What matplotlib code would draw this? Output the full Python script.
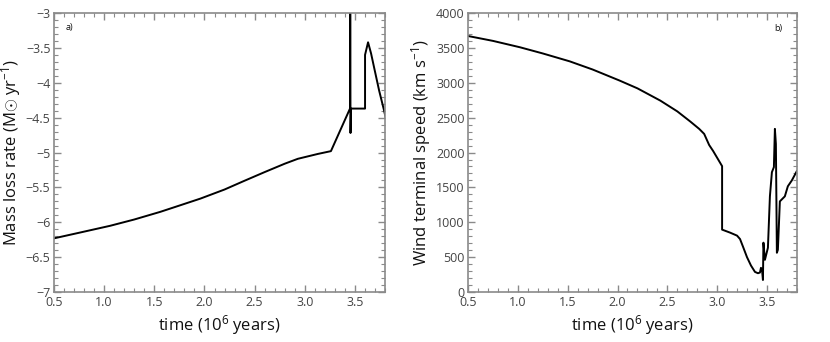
import matplotlib
matplotlib.use("Agg")
import matplotlib.pyplot as plt
from matplotlib.ticker import MultipleLocator, FixedLocator

plt.rcParams['font.family'] = ['Open Sans', 'DejaVu Sans']
plt.rcParams['mathtext.fontset'] = 'custom'
plt.rcParams['mathtext.rm'] = 'Open Sans'
plt.rcParams['mathtext.it'] = 'Open Sans'

# Panel a) mass loss rate (log Msun/yr)
t_a = [0.5, 0.75, 1.06, 1.3, 1.56, 1.75, 1.96, 2.2, 2.39, 2.6, 2.8, 2.93, 3.13, 3.26,
       3.45, 3.452, 3.455, 3.46, 3.60, 3.60, 3.63, 3.66, 3.69, 3.74, 3.79, 3.81]
mdot = [-6.23, -6.15, -6.05, -5.96, -5.85, -5.76, -5.66, -5.53, -5.41, -5.28, -5.16, -5.09,
        -5.02, -4.98, -4.37, -2.0, -4.72, -4.37, -4.37, -3.60, -3.42, -3.58, -3.78, -4.11,
        -4.40, -4.53]

# Panel b) wind terminal speed (km/s)
t_b = [0.5, 0.75, 1.02, 1.25, 1.52, 1.75, 2.02, 2.2, 2.43, 2.6, 2.73, 2.82, 2.87, 2.92,
       2.96, 3.05, 3.05, 3.13, 3.20, 3.23, 3.26, 3.30, 3.34, 3.38, 3.41, 3.43, 3.44, 3.45,
       3.46, 3.465, 3.48, 3.51, 3.53, 3.55, 3.57, 3.58, 3.59, 3.60, 3.61, 3.63, 3.68,
       3.71, 3.75, 3.80]
vinf = [3670, 3600, 3509, 3420, 3307, 3190, 3032, 2920, 2744, 2590, 2445, 2339, 2267,
        2108, 2022, 1805, 895, 852, 809, 760, 650, 500, 380, 289, 270, 280, 347, 330,
        173, 708, 462, 635, 1372, 1718, 1791, 2339, 2123, 563, 606, 1300, 1372, 1516,
        1600, 1733]

xticks = [0.5, 1.0, 1.5, 2.0, 2.5, 3.0, 3.5]
xticklabels = ['0.5', '1.0', '1.5', '2.0', '2.5', '3.0', '3.5']
yticks_a = [-7, -6.5, -6, -5.5, -5, -4.5, -4, -3.5, -3]
yticklabels_a = ['\u22127', '\u22126.5', '\u22126', '\u22125.5', '\u22125', '\u22124.5',
                 '\u22124', '\u22123.5', '\u22123']
yticks_b = [0, 500, 1000, 1500, 2000, 2500, 3000, 3500, 4000]

fig = plt.figure(figsize=(8.3, 3.42), dpi=100)
ax1 = fig.add_axes([0.065, 0.146, 0.399, 0.816])
ax2 = fig.add_axes([0.564, 0.146, 0.396, 0.816])

frame_col = '#8a8a8a'
text_col = '#444444'

def style(ax):
    for s in ax.spines.values():
        s.set_color(frame_col)
        s.set_linewidth(1.2)
    ax.tick_params(which='both', direction='in', top=True, right=True,
                   color=frame_col, labelcolor=text_col, labelsize=9)
    ax.tick_params(which='major', length=5, width=1, pad=2.5)
    ax.tick_params(which='minor', length=3, width=0.8)
    ax.xaxis.set_major_locator(FixedLocator(xticks))
    ax.set_xticklabels(xticklabels)
    ax.xaxis.set_minor_locator(MultipleLocator(0.1))
    ax.set_xlim(0.5, 3.8)
    ax.set_xlabel('time (10$^{6}$ years)', fontsize=12, color='#111111', labelpad=3)

ax1.plot(t_a, mdot, color='black', lw=1.4)
style(ax1)
ax1.set_ylim(-7, -3)
ax1.yaxis.set_major_locator(FixedLocator(yticks_a))
ax1.set_yticklabels(yticklabels_a)
ax1.yaxis.set_minor_locator(MultipleLocator(0.1))
ax1.set_ylabel('Mass loss rate (M$\\odot$ yr$^{-1}$)', fontsize=12, color='#111111', labelpad=2)
ax1.text(0.035, 0.965, 'a)', transform=ax1.transAxes, fontsize=6.5, va='top', ha='left',
         color='#111111')

ax2.plot(t_b, vinf, color='black', lw=1.4)
style(ax2)
ax2.set_ylim(0, 4000)
ax2.yaxis.set_major_locator(FixedLocator(yticks_b))
ax2.yaxis.set_minor_locator(MultipleLocator(100))
ax2.set_ylabel('Wind terminal speed (km s$^{-1}$)', fontsize=12, color='#111111', labelpad=2)
ax2.text(0.955, 0.96, 'b)', transform=ax2.transAxes, fontsize=6.5, va='top', ha='right',
         color='#111111')

fig.savefig('out.png', dpi=100)
